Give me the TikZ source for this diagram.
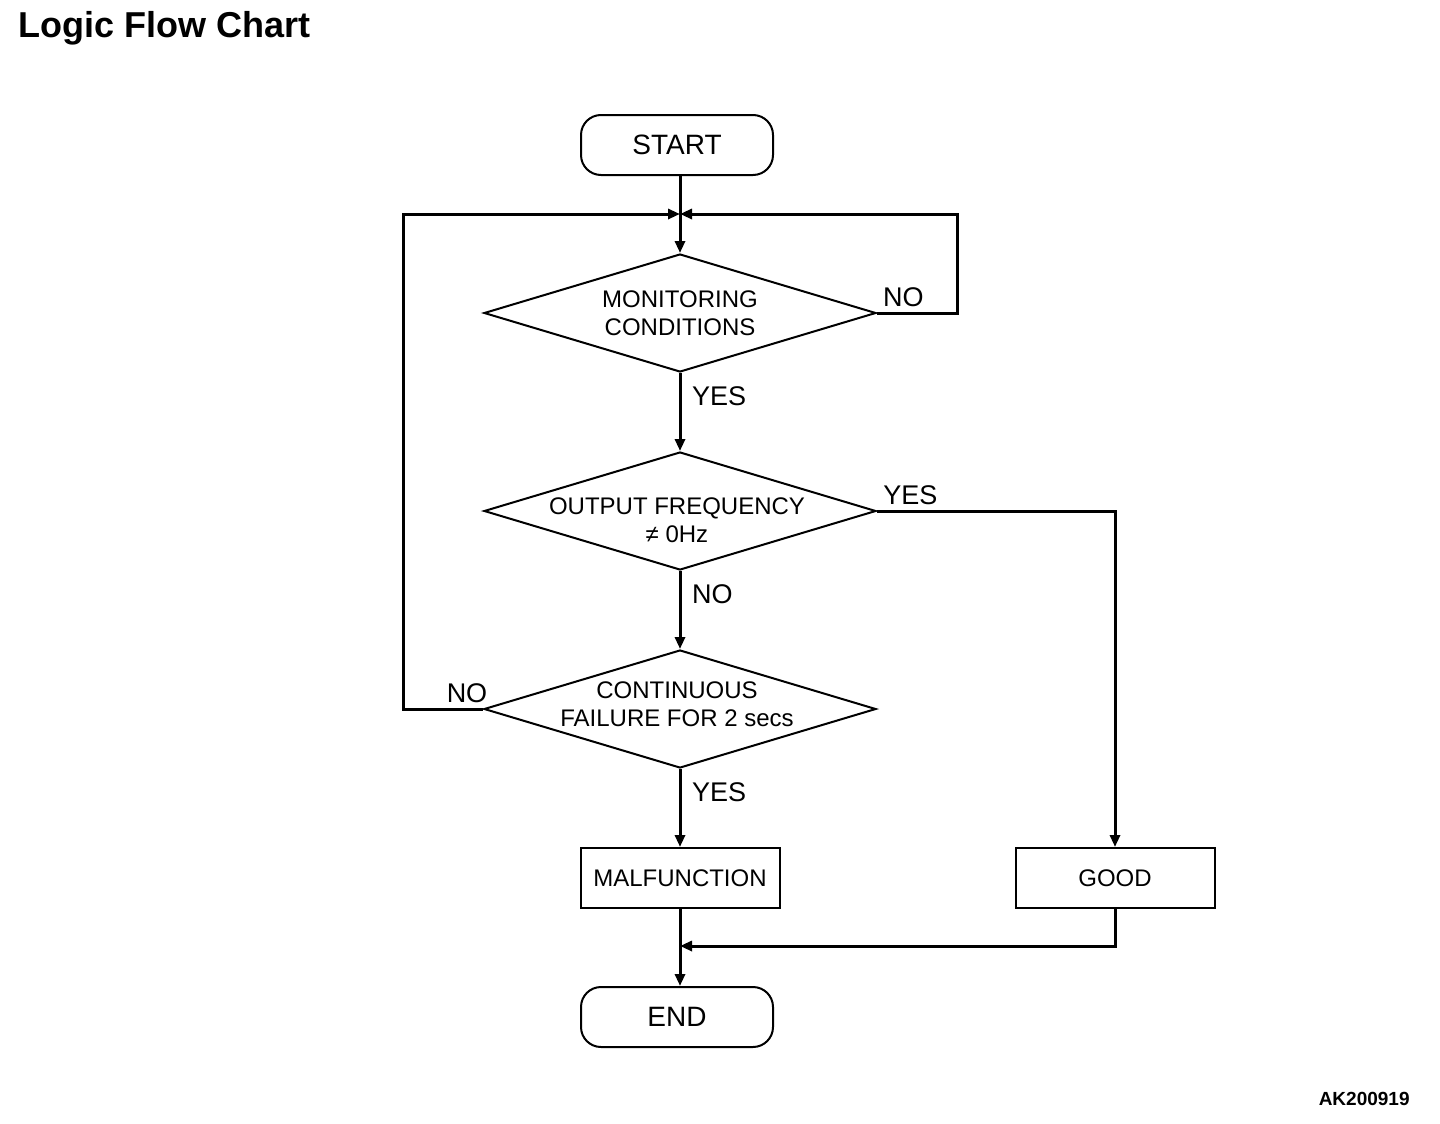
\documentclass[tikz,border=0pt]{standalone}
\usepackage{fontspec}
\setmainfont{Liberation Sans}
\usetikzlibrary{arrows.meta, shapes.geometric, positioning, calc}

\begin{document}
\begin{tikzpicture}[x=0.5pt, y=-0.5pt,
    terminal/.style={draw, line width=1pt, rounded corners=10pt, minimum width=96pt, minimum height=30pt, font=\fontsize{14}{16}\selectfont},
    decision/.style={draw, line width=1pt, diamond, aspect=3.3, inner sep=0pt, minimum width=196pt, minimum height=59pt},
    dtext/.style={align=center, inner sep=0pt, font=\fontsize{12}{14}\selectfont},
    result/.style={draw, line width=1pt, minimum width=99.5pt, minimum height=30pt, font=\fontsize{12}{14}\selectfont},
    lbl/.style={font=\fontsize{13.5}{15}\selectfont},
    flow/.style={line width=1.5pt, -{Triangle[length=6pt, width=5pt]}},
    line/.style={line width=1.5pt}]
        \useasboundingbox (0,0) rectangle (1440,1124);
        \node[anchor=base west, inner sep=0pt, font=\fontsize{18}{20}\selectfont\bfseries] (title) at (18,38) {Logic Flow Chart};
        \node[anchor=base east, inner sep=0pt, font=\fontsize{9.5}{11}\selectfont\bfseries] (code) at (1410,1105) {AK200919};
        \node[terminal] (start) at (677,145) {START};
        \node[decision] (mon) at (680,313) {};
        \node[dtext] (montxt) at (680,313) {MONITORING\\CONDITIONS};
        \node[decision] (freq) at (680,511) {};
        \node[dtext] (freqtxt) at (677,520) {OUTPUT FREQUENCY\\≠ 0Hz};
        \node[decision] (fail) at (680,709) {};
        \node[dtext] (failtxt) at (677,704) {CONTINUOUS\\FAILURE FOR 2 secs};
        \node[result] (mal) at (680,878) {MALFUNCTION};
        \node[result] (good) at (1115,878) {GOOD};
        \node[terminal] (end) at (677,1017) {END};
        \coordinate (join) at (680,214);
        \coordinate (merge) at (680,946);
        % main path
        \draw[line] (start.south -| join) -- (join);
        \draw[flow] (join) -- (mon.north);
        \draw[flow] (mon.south) -- node[lbl, right=2pt, pos=0.3] {YES} (freq.north);
        \draw[flow] (freq.south) -- node[lbl, right=2pt, pos=0.3] {NO} (fail.north);
        \draw[flow] (fail.south) -- node[lbl, right=2pt, pos=0.3] {YES} (mal.north);
        \draw[flow] (mal.south) -- (mal.south |- end.north);
        % loops back
        \draw[flow] (mon.east) -- node[lbl, above=-1pt, pos=0.33] {NO} (957,313) -- (957,214) -- (join);
        \draw[flow] (fail.west) -- node[lbl, above=-1pt, pos=0.2] {NO} (403,709) -- (403,214) -- (join);
        \draw[flow] (freq.east) -- node[lbl, above=-1pt, pos=0.14] {YES} (good.north |- freq.east) -- (good.north);
        \draw[flow] (good.south) -- (good.south |- merge) -- (merge);
\end{tikzpicture}
\end{document}
